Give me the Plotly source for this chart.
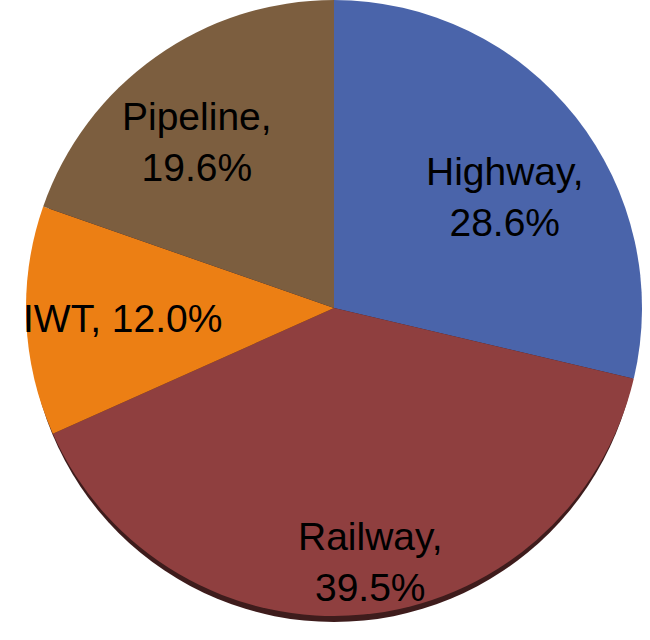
import plotly.graph_objects as go

categories = ["Highway", "Railway", "IWT", "Pipeline"]
shares = [28.6, 39.5, 12.0, 19.6]
slice_colors = ["#4A64AA", "#8F3F3F", "#EC7F14", "#7C5E3F"]

W, H = 650, 640
cx, cy, r = 334, 308, 308

# label centres (pixels from top-left) for each category
label_pos = {"Highway": (505, 197), "Railway": (370, 562), "IWT": (122, 318), "Pipeline": (197, 142)}

def dom(cx, cy, r):
    return dict(x=[(cx - r) / W, (cx + r) / W],
                y=[max(0, (H - cy - r) / H), min(1, (H - cy + r) / H)])

fig = go.Figure()
# dark rim underneath
fig.add_trace(go.Pie(
    values=[1], labels=["rim"], marker=dict(colors=["#3E1C1C"], line=dict(width=0)),
    textinfo="none", hoverinfo="skip", sort=False, showlegend=False,
    domain=dom(cx, cy + 9, r - 3),
))
fig.add_trace(go.Pie(
    labels=categories, values=shares, sort=False, direction="clockwise", rotation=0,
    marker=dict(colors=slice_colors, line=dict(width=0)),
    textinfo="none", showlegend=False, domain=dom(cx, cy, r),
))
for c, v in zip(categories, shares):
    txt = f"{c}, {v:.1f}%" if c == "IWT" else f"{c},<br>{v:.1f}%"
    px, py = label_pos[c]
    fig.add_annotation(x=px / W, y=1 - py / H, xref="paper", yref="paper",
                       text=txt, showarrow=False, xanchor="center", yanchor="middle",
                       font=dict(family="Liberation Sans, Arial, sans-serif", size=39, color="black"))
fig.update_layout(width=W, height=H, margin=dict(l=0, r=0, t=0, b=0), paper_bgcolor="white")
fig.write_html("out.html")
